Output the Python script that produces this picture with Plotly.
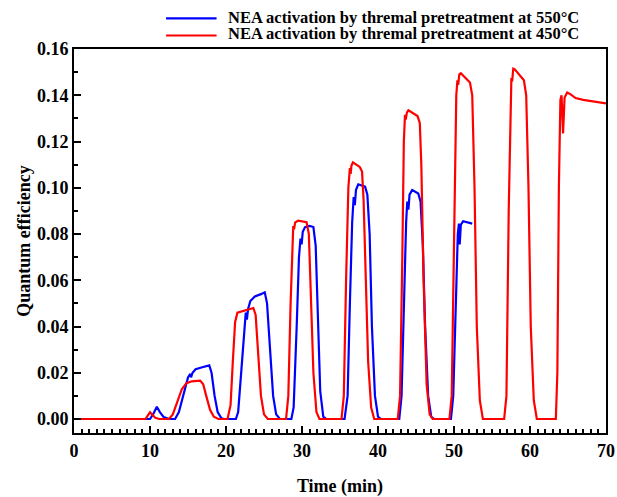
import plotly.graph_objects as go

# blue: NEA activation after thermal pretreatment at 550 C
t_550 = [0, 10.0, 10.4, 10.9, 11.3, 11.8, 12.5, 13.3, 13.8, 14.4, 15.0, 15.3, 15.4, 15.6, 16.0,
         17.0, 17.8, 18.1, 18.5, 18.9, 19.4, 19.8, 21.3, 21.6, 22.0, 22.4, 22.6, 22.75, 22.9,
         23.2, 23.8, 24.6, 25.1, 25.4, 25.8, 26.2, 26.6, 27.1, 28.6, 28.9, 29.3, 29.6, 29.8,
         29.95, 30.1, 30.4, 31.0, 31.5, 31.8, 32.1, 32.4, 32.8, 33.2, 35.6, 36.0, 36.3, 36.6,
         36.8, 36.95, 37.1, 37.4, 38.3, 38.6, 38.9, 39.2, 39.6, 40.0, 40.4, 42.8, 43.1, 43.4,
         43.7, 43.85, 44.0, 44.15, 44.5, 45.3, 45.6, 45.9, 46.2, 46.6, 47.0, 47.4, 49.6, 49.9,
         50.2, 50.5, 50.65, 50.75, 50.9, 51.2, 52.4]
qe_550 = [0, 0, 0.002, 0.0053, 0.003, 0.0008, 0, 0, 0.003, 0.011, 0.018, 0.0195, 0.018, 0.020,
          0.0215, 0.0225, 0.0232, 0.020, 0.010, 0.003, 0.0003, 0, 0, 0.003, 0.020, 0.040, 0.046,
          0.043, 0.0475, 0.051, 0.053, 0.054, 0.0548, 0.050, 0.030, 0.010, 0.002, 0, 0, 0.005,
          0.040, 0.070, 0.078, 0.0755, 0.081, 0.083, 0.0835, 0.083, 0.075, 0.040, 0.012, 0.001,
          0, 0, 0.010, 0.050, 0.085, 0.096, 0.0925, 0.099, 0.1015, 0.1005, 0.097, 0.080, 0.040,
          0.010, 0.001, 0, 0, 0.010, 0.050, 0.085, 0.094, 0.0905, 0.097, 0.099, 0.0975, 0.094,
          0.075, 0.040, 0.010, 0.001, 0, 0, 0.010, 0.050, 0.080, 0.0845, 0.0755, 0.084, 0.0855,
          0.0845]

# red: NEA activation after thermal pretreatment at 450 C
t_450 = [0, 9.4, 9.7, 10.0, 10.3, 10.7, 11.2, 12.5, 13.0, 13.6, 14.2, 14.8, 15.5, 16.6, 17.0,
         17.4, 17.9, 18.4, 19.0, 20.2, 20.6, 20.9, 21.2, 21.5, 22.5, 23.6, 23.9, 24.2, 24.6,
         25.0, 25.5, 27.9, 28.2, 28.5, 28.75, 28.85, 28.95, 29.1, 29.5, 30.6, 30.9, 31.2, 31.5,
         31.9, 32.3, 35.2, 35.5, 35.8, 36.1, 36.3, 36.4, 36.5, 36.7, 37.6, 37.9, 38.1, 38.4,
         38.7, 39.1, 39.5, 42.6, 42.9, 43.2, 43.4, 43.55, 43.65, 43.8, 44.0, 45.2, 45.5, 45.7,
         46.0, 46.4, 46.8, 47.2, 49.4, 49.7, 50.0, 50.3, 50.45, 50.55, 50.7, 50.9, 52.1, 52.4,
         52.7, 53.0, 53.4, 53.8, 56.6, 56.9, 57.2, 57.45, 57.55, 57.65, 57.8, 58.0, 59.2, 59.5,
         59.8, 60.1, 60.5, 60.9, 63.4, 63.6, 63.8, 64.0, 64.15, 64.35, 64.55, 64.9, 65.3, 66.0,
         67.0, 70.0]
qe_450 = [0, 0, 0.0015, 0.0029, 0.0018, 0.0005, 0, 0, 0.002, 0.008, 0.013, 0.0155, 0.0163,
          0.0166, 0.015, 0.010, 0.004, 0.001, 0, 0, 0.006, 0.025, 0.042, 0.046, 0.047, 0.048,
          0.045, 0.030, 0.010, 0.002, 0, 0, 0.010, 0.050, 0.080, 0.0834, 0.082, 0.085, 0.0858,
          0.0851, 0.080, 0.050, 0.020, 0.003, 0, 0, 0.010, 0.060, 0.100, 0.1085, 0.106, 0.1095,
          0.111, 0.109, 0.107, 0.095, 0.060, 0.025, 0.005, 0, 0, 0.010, 0.070, 0.120, 0.1315,
          0.1295, 0.1325, 0.1335, 0.131, 0.128, 0.110, 0.060, 0.015, 0.002, 0, 0, 0.010, 0.080,
          0.140, 0.1465, 0.1445, 0.149, 0.1495, 0.1455, 0.140, 0.100, 0.040, 0.008, 0, 0, 0.010,
          0.090, 0.145, 0.1475, 0.146, 0.1515, 0.1512, 0.1465, 0.140, 0.100, 0.040, 0.008, 0, 0,
          0.020, 0.100, 0.138, 0.140, 0.1235, 0.139, 0.1412, 0.1405, 0.1388, 0.138, 0.1365]

series = [
    ("NEA activation by thremal pretreatment at 550°C", t_550, qe_550, "#0000FF"),
    ("NEA activation by thremal pretreatment at 450°C", t_450, qe_450, "#FF0000"),
]

FONT = "Liberation Serif"

fig = go.Figure()
for name, t, qe, color in series:
    fig.add_trace(go.Scatter(x=t, y=qe, mode="lines", name=name,
                             line=dict(color=color, width=2.2), showlegend=False))

# hand-made legend above the frame (longer sample lines than plotly's own)
legend_rows = [(1.0808, 1.0799), (1.0391, 1.0352)]  # (text y, line y) in paper units
for (name, t, qe, color), (ty, ly) in zip(series, legend_rows):
    fig.add_shape(type="line", xref="paper", yref="paper", x0=0.173, x1=0.268, y0=ly, y1=ly,
                  line=dict(color=color, width=2.2))
    fig.add_annotation(xref="paper", yref="paper", x=0.2857, y=ty, text=name, showarrow=False,
                       xanchor="left", yanchor="middle",
                       font=dict(family=FONT, size=16.5, color="black", weight="bold"))

axis_common = dict(
    showline=True, linecolor="black", linewidth=2, mirror=True, automargin=False,
    showgrid=False, zeroline=False, ticks="inside", tickcolor="black", tickwidth=1.5,
    ticklen=7, tickfont=dict(family=FONT, size=18, color="black", weight="bold"),
)

fig.update_layout(
    width=617, height=497,
    margin=dict(l=74, r=11, t=49, b=64),
    plot_bgcolor="white", paper_bgcolor="white",
    xaxis=dict(range=[0, 70], dtick=10, tick0=0,
               minor=dict(dtick=1, ticks="inside", ticklen=4, tickcolor="black"),
               title=dict(text="Time (min)", standoff=20,
                          font=dict(family=FONT, size=18, color="black", weight="bold")),
               **axis_common),
    yaxis=dict(range=[-0.00605, 0.16], dtick=0.02, tick0=0, tickformat=".2f",
               minor=dict(dtick=0.01, ticks="inside", ticklen=4, tickcolor="black"),
               title=dict(text="Quantum efficiency", standoff=2,
                          font=dict(family=FONT, size=18, color="black", weight="bold")),
               **axis_common),
)

# drop the page's default 8px body margin so the figure fills the window exactly
fig.write_html("out.html", config={"displayModeBar": False},
               post_script="document.body.style.margin = '0';")
